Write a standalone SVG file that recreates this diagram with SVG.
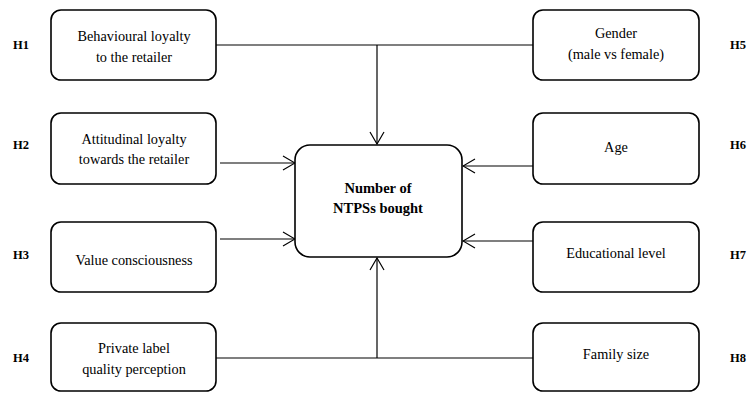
<svg xmlns="http://www.w3.org/2000/svg" width="751" height="393" viewBox="0 0 751 393">
<defs>
<style>
.box{fill:#fff;stroke:#000;stroke-width:1.6}
.t{font-family:"Liberation Serif",serif;font-size:14.3px;text-anchor:middle;fill:#000}
.b{font-family:"Liberation Serif",serif;font-size:14.5px;font-weight:bold;text-anchor:middle;fill:#000}
.h{font-family:"Liberation Serif",serif;font-size:12.5px;font-weight:bold;fill:#000}
.c{fill:none;stroke:#000;stroke-width:1.2}
</style>
<marker id="ah" viewBox="0 0 14 16" refX="13" refY="8" markerWidth="14" markerHeight="16" markerUnits="userSpaceOnUse" orient="auto">
<path d="M1 1 L13 8 L1 15" fill="none" stroke="#000" stroke-width="1.2"/>
</marker>
</defs>
<rect width="751" height="393" fill="#fff"/>
<g id="connectors">
<path class="c" d="M216 45 H533"/>
<path class="c" d="M377 45 V144" marker-end="url(#ah)"/>
<path class="c" d="M220 163 H295" marker-end="url(#ah)"/>
<path class="c" d="M220 239 H295" marker-end="url(#ah)"/>
<path class="c" d="M533 166 H463" marker-end="url(#ah)"/>
<path class="c" d="M533 241 H463" marker-end="url(#ah)"/>
<path class="c" d="M216 358 H533"/>
<path class="c" d="M377 358 V258" marker-end="url(#ah)"/>
</g>
<g id="n1"><rect class="box" x="51" y="10" width="165" height="70" rx="10"/><text class="t" x="134" y="41">Behavioural loyalty</text><text class="t" x="134" y="62">to the retailer</text></g>
<g id="n2"><rect class="box" x="51" y="113" width="165" height="71" rx="10"/><text class="t" x="134" y="144">Attitudinal loyalty</text><text class="t" x="134" y="164">towards the retailer</text></g>
<g id="n3"><rect class="box" x="51" y="222" width="165" height="70" rx="10"/><text class="t" x="134" y="265">Value consciousness</text></g>
<g id="n4"><rect class="box" x="51" y="323" width="165" height="68" rx="10"/><text class="t" x="134" y="353">Private label</text><text class="t" x="134" y="374">quality perception</text></g>
<g id="n5"><rect class="box" x="533" y="10" width="166" height="70" rx="10"/><text class="t" x="616" y="38">Gender</text><text class="t" x="616" y="59">(male vs female)</text></g>
<g id="n6"><rect class="box" x="533" y="113" width="166" height="71" rx="10"/><text class="t" x="616" y="152">Age</text></g>
<g id="n7"><rect class="box" x="533" y="222" width="166" height="70" rx="10"/><text class="t" x="616" y="258">Educational level</text></g>
<g id="n8"><rect class="box" x="533" y="323" width="166" height="68" rx="10"/><text class="t" x="616" y="359">Family size</text></g>
<g id="center"><rect class="box" x="295" y="145" width="167" height="112" rx="15"/><text class="b" x="378" y="193">Number of</text><text class="b" x="378" y="213">NTPSs bought</text></g>
<g id="labels">
<text class="h" x="13" y="49">H1</text>
<text class="h" x="13" y="149">H2</text>
<text class="h" x="13" y="259">H3</text>
<text class="h" x="13" y="362">H4</text>
<text class="h" x="730" y="49">H5</text>
<text class="h" x="730" y="149">H6</text>
<text class="h" x="730" y="259">H7</text>
<text class="h" x="730" y="362">H8</text>
</g>
</svg>
